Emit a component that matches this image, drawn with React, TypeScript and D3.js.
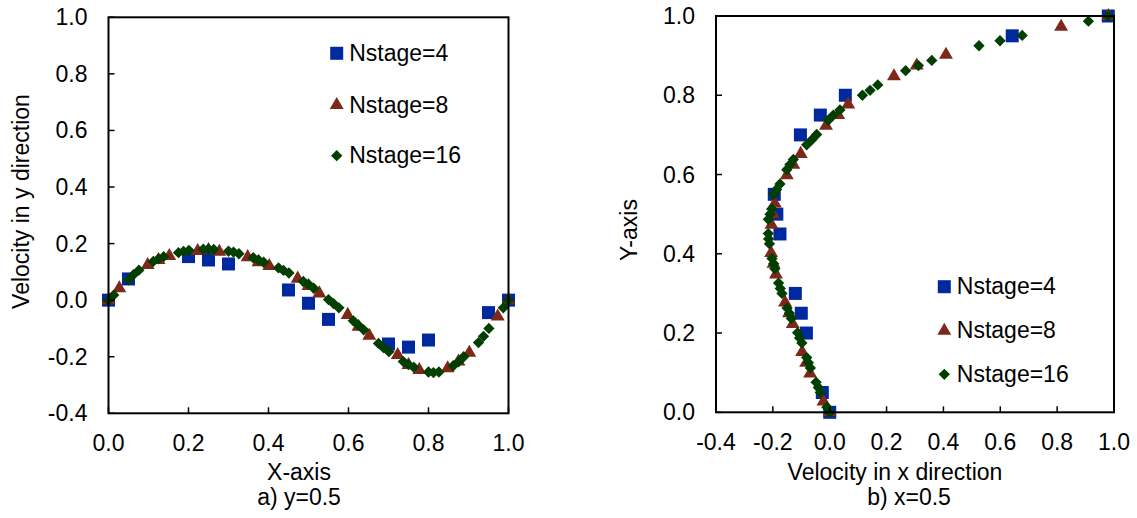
import React from "react";
import * as d3 from "d3";

// ---- Panel a) vertical velocity along the horizontal centreline (y = 0.5) ----
const aN4X = [0, 0.05, 0.2, 0.25, 0.3, 0.45, 0.5, 0.55, 0.7, 0.75, 0.8, 0.95, 1.0];
const aN4V = [0, 0.075, 0.154, 0.142, 0.128, 0.036, -0.011, -0.068, -0.155, -0.166, -0.141, -0.044, 0];

const aN8X = [0, 0.027, 0.098, 0.125, 0.152, 0.223, 0.25, 0.277, 0.348, 0.375, 0.402, 0.473, 0.5,
  0.527, 0.598, 0.625, 0.652, 0.723, 0.75, 0.777, 0.848, 0.875, 0.902, 0.973, 1.0];
const aN8V = [0, 0.042, 0.124, 0.142, 0.156, 0.174, 0.177, 0.171, 0.152, 0.134, 0.121, 0.076, 0.05,
  0.024, -0.052, -0.094, -0.126, -0.194, -0.229, -0.247, -0.241, -0.217, -0.186, -0.058, 0];

const aN16X = [0, 0.013, 0.05, 0.0625, 0.076, 0.112, 0.125, 0.138, 0.175, 0.1875, 0.201, 0.237, 0.25,
  0.263, 0.3, 0.3125, 0.326, 0.362, 0.375, 0.388, 0.425, 0.4375, 0.451, 0.487, 0.5, 0.513, 0.55,
  0.5625, 0.576, 0.612, 0.625, 0.638, 0.675, 0.6875, 0.701, 0.737, 0.75, 0.763, 0.8, 0.8125, 0.826,
  0.862, 0.875, 0.888, 0.925, 0.9375, 0.951, 0.987, 1.0];
const aN16V = [0, 0.018, 0.072, 0.09, 0.106, 0.137, 0.146, 0.154, 0.168, 0.172, 0.176, 0.18, 0.18,
  0.179, 0.173, 0.17, 0.164, 0.15, 0.142, 0.134, 0.114, 0.105, 0.096, 0.066, 0.056, 0.042, 0.002,
  -0.012, -0.027, -0.073, -0.089, -0.105, -0.153, -0.168, -0.182, -0.217, -0.228, -0.237, -0.254,
  -0.256, -0.254, -0.232, -0.218, -0.2, -0.15, -0.128, -0.1, -0.027, 0];

// ---- Panel b) horizontal velocity along the vertical centreline (x = 0.5) ----
const bN4Y = [0, 0.05, 0.2, 0.25, 0.3, 0.45, 0.5, 0.55, 0.7, 0.75, 0.8, 0.95, 1.0];
const bN4U = [0, -0.026, -0.082, -0.1, -0.121, -0.175, -0.186, -0.195, -0.103, -0.033, 0.055, 0.642, 0.98];

const bN8Y = [0, 0.027, 0.098, 0.125, 0.152, 0.223, 0.25, 0.277, 0.348, 0.375, 0.402, 0.473, 0.5,
  0.527, 0.598, 0.625, 0.652, 0.723, 0.75, 0.777, 0.848, 0.875, 0.902, 0.973, 1.0];
const bN8U = [0, -0.022, -0.069, -0.083, -0.097, -0.13, -0.143, -0.157, -0.189, -0.198, -0.206, -0.205,
  -0.2, -0.193, -0.151, -0.128, -0.102, -0.013, 0.03, 0.065, 0.226, 0.306, 0.409, 0.814, 0.98];

const bN16Y = [0, 0.013, 0.05, 0.0625, 0.076, 0.112, 0.125, 0.138, 0.175, 0.1875, 0.201, 0.237, 0.25,
  0.263, 0.3, 0.3125, 0.326, 0.362, 0.375, 0.388, 0.425, 0.4375, 0.451, 0.487, 0.5, 0.513, 0.55,
  0.5625, 0.576, 0.612, 0.625, 0.638, 0.675, 0.6875, 0.701, 0.737, 0.75, 0.763, 0.8, 0.8125, 0.826,
  0.862, 0.875, 0.888, 0.925, 0.9375, 0.951, 0.987, 1.0];
const bN16U = [0, -0.01, -0.033, -0.04, -0.048, -0.068, -0.075, -0.081, -0.098, -0.106, -0.113, -0.135,
  -0.142, -0.15, -0.168, -0.174, -0.18, -0.193, -0.197, -0.203, -0.212, -0.215, -0.216, -0.216, -0.21,
  -0.204, -0.197, -0.187, -0.175, -0.151, -0.14, -0.128, -0.081, -0.063, -0.046, -0.005, 0.013, 0.036,
  0.115, 0.142, 0.169, 0.267, 0.312, 0.359, 0.525, 0.599, 0.677, 0.91, 0.98];

const seriesNames = ["Nstage=4", "Nstage=8", "Nstage=16"];
const aXTicks = [0, 0.2, 0.4, 0.6, 0.8, 1.0];
const aYTicks = [-0.4, -0.2, 0, 0.2, 0.4, 0.6, 0.8, 1.0];
const bXTicks = [-0.4, -0.2, 0, 0.2, 0.4, 0.6, 0.8, 1.0];
const bYTicks = [0, 0.2, 0.4, 0.6, 0.8, 1.0];

const COLORS = ["#00299F", "#7D2819", "#003F00"];
const FONT = "'Liberation Sans', Arial, sans-serif";
const FS = 23;
// one decimal, with a plain hyphen for negatives
const fmt = (v: number) => d3.format(".1f")(v).replace("\u2212", "-");

const squarePath = d3.symbol(d3.symbolSquare, 169)()!;
const trianglePath = d3.symbol(d3.symbolTriangle, 84)()!;
const diamondPath = d3.symbol(d3.symbolSquare, 64)()!;

function Marker({ kind, x, y }: { kind: number; x: number; y: number }) {
  if (kind === 0) return <path d={squarePath} transform={`translate(${x},${y})`} fill={COLORS[0]} />;
  if (kind === 1) return <path d={trianglePath} transform={`translate(${x},${y})`} fill={COLORS[1]} />;
  return <path d={diamondPath} transform={`translate(${x},${y}) rotate(45)`} fill={COLORS[2]} />;
}

type PanelProps = {
  x: d3.ScaleLinear<number, number>;
  y: d3.ScaleLinear<number, number>;
  xTicks: number[];
  yTicks: number[];
  series: { xs: number[]; ys: number[] }[];
  legendX: number;
  legendY: number[];
  xTitle: string;
  xTitleX: number;
  caption: string;
  captionX: number;
  yTitle: string;
  yTitleX: number;
  yTitleY: number;
};

function Panel(p: PanelProps) {
  const [x0, x1] = p.x.range();
  const [y0, y1] = p.y.range();
  const tickLen = 6;
  return (
    <g>
      {p.series.map((s, k) => (
        <g key={k}>
          {s.xs.map((v, i) => (
            <Marker key={i} kind={k} x={p.x(v)} y={p.y(s.ys[i])} />
          ))}
        </g>
      ))}
      <rect x={x0} y={y1} width={x1 - x0} height={y0 - y1} fill="none" stroke="#000" strokeWidth={2} />
      {p.xTicks.map((t) => (
        <g key={`x${t}`}>
          <line x1={p.x(t)} x2={p.x(t)} y1={y0} y2={y0 - tickLen} stroke="#000" strokeWidth={1.5} />
          <text x={p.x(t)} y={y0 + 38} textAnchor="middle" fontSize={FS} fontFamily={FONT} fill="#000">
            {fmt(t)}
          </text>
        </g>
      ))}
      {p.yTicks.map((t) => (
        <g key={`y${t}`}>
          <line x1={x0} x2={x0 + tickLen} y1={p.y(t)} y2={p.y(t)} stroke="#000" strokeWidth={1.5} />
          <text x={x0 - 21} y={p.y(t) + 8} textAnchor="end" fontSize={FS} fontFamily={FONT} fill="#000">
            {fmt(t)}
          </text>
        </g>
      ))}
      <text x={p.xTitleX} y={480} textAnchor="middle" fontSize={FS} fontFamily={FONT} fill="#000">
        {p.xTitle}
      </text>
      <text x={p.captionX} y={505} textAnchor="middle" fontSize={FS} fontFamily={FONT} fill="#000">
        {p.caption}
      </text>
      <text
        transform={`translate(${p.yTitleX},${p.yTitleY}) rotate(-90)`}
        textAnchor="middle"
        fontSize={FS}
        fontFamily={FONT}
        fill="#000"
      >
        {p.yTitle}
      </text>
      {seriesNames.map((name, k) => (
        <g key={name}>
          <Marker kind={k} x={p.legendX} y={p.legendY[k]} />
          <text x={p.legendX + 12.5} y={p.legendY[k] + 7.5} fontSize={FS} fontFamily={FONT} fill="#000">
            {name}
          </text>
        </g>
      ))}
    </g>
  );
}

export default function App() {
  const ax = d3.scaleLinear().domain([0, 1]).range([108.5, 508.5]);
  const ay = d3.scaleLinear().domain([-0.4, 1.0]).range([413.3, 17.3]);
  const bx = d3.scaleLinear().domain([-0.4, 1.0]).range([716, 1114]);
  const by = d3.scaleLinear().domain([0, 1]).range([412.3, 16]);

  return (
    <svg
      width={1137}
      height={518}
      viewBox="0 0 1137 518"
      style={{ position: "absolute", left: 0, top: 0, background: "#fff" }}
    >
      <rect width={1137} height={518} fill="#fff" />
      <Panel
        x={ax}
        y={ay}
        xTicks={aXTicks}
        yTicks={aYTicks}
        series={[
          { xs: aN4X, ys: aN4V },
          { xs: aN8X, ys: aN8V },
          { xs: aN16X, ys: aN16V },
        ]}
        legendX={336.7}
        legendY={[53.3, 105, 155.7]}
        xTitle="X-axis"
        xTitleX={299}
        caption="a) y=0.5"
        captionX={299}
        yTitle="Velocity in y direction"
        yTitleX={29}
        yTitleY={201.5}
      />
      <Panel
        x={bx}
        y={by}
        xTicks={bXTicks}
        yTicks={bYTicks}
        series={[
          { xs: bN4U, ys: bN4Y },
          { xs: bN8U, ys: bN8Y },
          { xs: bN16U, ys: bN16Y },
        ]}
        legendX={944.3}
        legendY={[286.7, 330.7, 374.3]}
        xTitle="Velocity in x direction"
        xTitleX={895}
        caption="b) x=0.5"
        captionX={909}
        yTitle="Y-axis"
        yTitleX={637}
        yTitleY={230}
      />
    </svg>
  );
}
